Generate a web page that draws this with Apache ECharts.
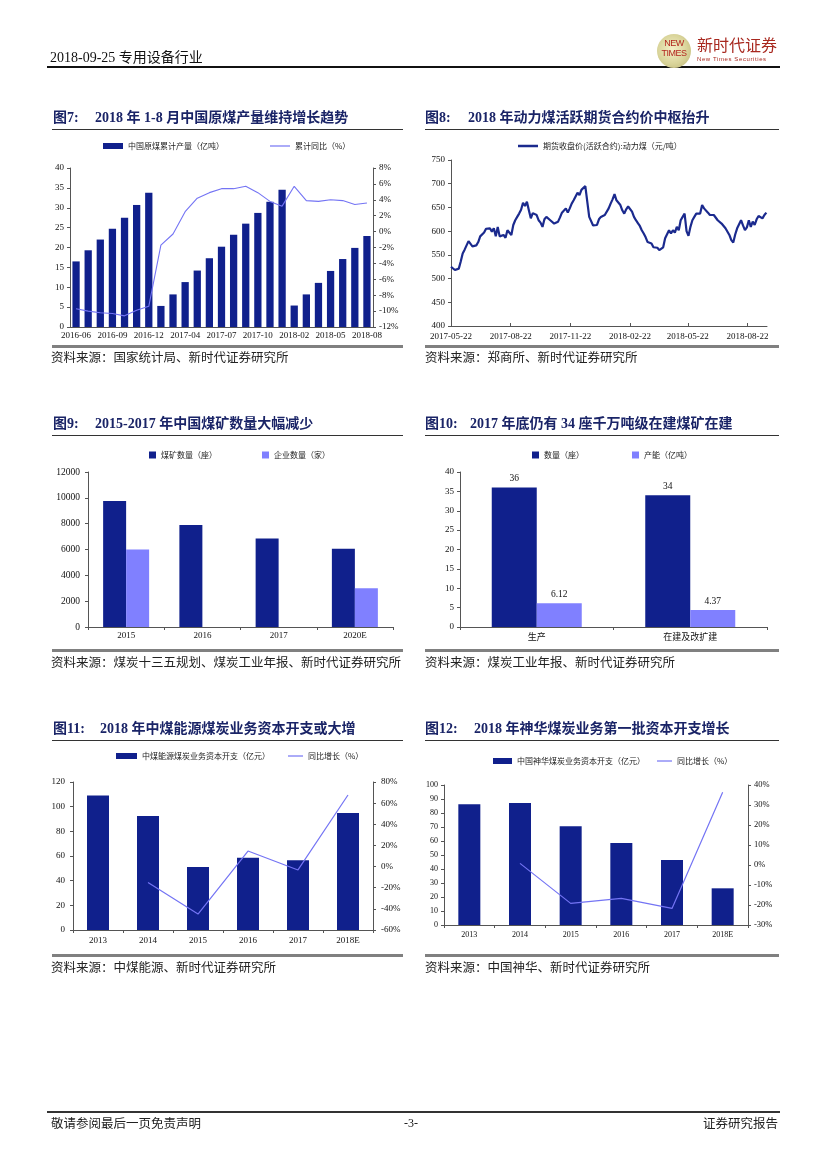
<!DOCTYPE html>
<html><head><meta charset="utf-8">
<script src="https://cdn.jsdelivr.net/npm/echarts@6.0.0/dist/echarts.min.js"></script>
<style>
html,body{margin:0;padding:0;background:#fff;}
#page{position:relative;width:827px;height:1169px;overflow:hidden;background:#fff;font-family:"Liberation Serif","Noto Sans CJK SC",serif;color:#111;}
#chart{position:absolute;left:0;top:0;width:827px;height:1169px;}
.t{position:absolute;white-space:nowrap;}
.ln{position:absolute;}
.ttl{font-weight:bold;font-size:14px;color:#1a2467;line-height:18px;}
.src{font-size:12.5px;line-height:16px;font-family:"Noto Sans CJK SC",sans-serif;color:#222;}
</style></head>
<body><div id="page">
<div id="chart"></div>

<!-- header -->
<div class="t" style="left:50px;top:47px;font-size:14px;line-height:18px;">2018-09-25 <span style="font-family:'Noto Sans CJK SC';">专用设备行业</span></div>
<div class="ln" style="left:47px;top:66px;width:733px;height:1.5px;background:#111;"></div>
<div style="position:absolute;left:657px;top:34px;width:34px;height:34px;border-radius:50%;background:radial-gradient(circle at 45% 45%,#f4f0c8 0%,#d9d49a 55%,#b8b070 100%);"></div>
<div class="t" style="left:657px;top:38px;width:34px;text-align:center;font-size:9px;line-height:10px;color:#b3261e;font-family:'Liberation Sans';letter-spacing:-0.5px;">NEW<br>TIMES</div>
<div class="t" style="left:697px;top:35px;font-size:16px;line-height:18px;color:#a8281f;font-family:'Noto Sans CJK SC';">新时代证券</div>
<div class="t" style="left:697px;top:55px;font-size:6px;line-height:8px;color:#a8281f;font-family:'Liberation Sans';letter-spacing:0.6px;">New Times Securities</div>

<!-- row 1 -->
<div class="t ttl" style="left:53px;top:109px;">图7:</div>
<div class="t ttl" style="left:95px;top:109px;">2018 年 1-8 月中国原煤产量维持增长趋势</div>
<div class="ln" style="left:52px;top:129px;width:351px;height:1px;background:#333;"></div>
<div class="ln" style="left:52px;top:345px;width:351px;height:2.5px;background:#808080;"></div>
<div class="t src" style="left:51px;top:349px;">资料来源：国家统计局、新时代证券研究所</div>

<div class="t ttl" style="left:425px;top:109px;">图8:</div>
<div class="t ttl" style="left:468px;top:109px;">2018 年动力煤活跃期货合约价中枢抬升</div>
<div class="ln" style="left:425px;top:129px;width:354px;height:1px;background:#333;"></div>
<div class="ln" style="left:425px;top:345px;width:354px;height:2.5px;background:#808080;"></div>
<div class="t src" style="left:425px;top:349px;">资料来源：郑商所、新时代证券研究所</div>

<!-- row 2 -->
<div class="t ttl" style="left:53px;top:415px;">图9:</div>
<div class="t ttl" style="left:95px;top:415px;">2015-2017 年中国煤矿数量大幅减少</div>
<div class="ln" style="left:52px;top:435px;width:351px;height:1px;background:#333;"></div>
<div class="ln" style="left:52px;top:649px;width:351px;height:2.5px;background:#808080;"></div>
<div class="t src" style="left:51px;top:654px;">资料来源：煤炭十三五规划、煤炭工业年报、新时代证券研究所</div>

<div class="t ttl" style="left:425px;top:415px;">图10:</div>
<div class="t ttl" style="left:470px;top:415px;">2017 年底仍有 34 座千万吨级在建煤矿在建</div>
<div class="ln" style="left:425px;top:435px;width:354px;height:1px;background:#333;"></div>
<div class="ln" style="left:425px;top:649px;width:354px;height:2.5px;background:#808080;"></div>
<div class="t src" style="left:425px;top:654px;">资料来源：煤炭工业年报、新时代证券研究所</div>

<!-- row 3 -->
<div class="t ttl" style="left:53px;top:720px;">图11:</div>
<div class="t ttl" style="left:100px;top:720px;">2018 年中煤能源煤炭业务资本开支或大增</div>
<div class="ln" style="left:52px;top:740px;width:351px;height:1px;background:#333;"></div>
<div class="ln" style="left:52px;top:954px;width:351px;height:2.5px;background:#808080;"></div>
<div class="t src" style="left:51px;top:959px;">资料来源：中煤能源、新时代证券研究所</div>

<div class="t ttl" style="left:425px;top:720px;">图12:</div>
<div class="t ttl" style="left:474px;top:720px;">2018 年神华煤炭业务第一批资本开支增长</div>
<div class="ln" style="left:425px;top:740px;width:354px;height:1px;background:#333;"></div>
<div class="ln" style="left:425px;top:954px;width:354px;height:2.5px;background:#808080;"></div>
<div class="t src" style="left:425px;top:959px;">资料来源：中国神华、新时代证券研究所</div>

<!-- footer -->
<div class="ln" style="left:47px;top:1111px;width:733px;height:1.5px;background:#333;"></div>
<div class="t src" style="left:51px;top:1115px;">敬请参阅最后一页免责声明</div>
<div class="t" style="left:404px;top:1115px;font-size:12px;line-height:16px;">-3-</div>
<div class="t src" style="left:703px;top:1115px;">证券研究报告</div>
</div>

<script>
// ---------- Data ----------
// Fig 7
const months7 = ['2016-06','2016-07','2016-08','2016-09','2016-10','2016-11','2016-12','2017-02','2017-03','2017-04','2017-05','2017-06','2017-07','2017-08','2017-09','2017-10','2017-11','2017-12','2018-02','2018-03','2018-04','2018-05','2018-06','2018-07','2018-08'];
const output7 = [16.5,19.3,22.0,24.7,27.5,30.7,33.8,5.3,8.2,11.3,14.2,17.3,20.2,23.2,26.0,28.7,31.5,34.5,5.4,8.2,11.1,14.1,17.1,19.9,22.9];
const yoy7 = [-9.7,-10.0,-10.2,-10.3,-10.6,-9.9,-9.4,-1.7,-0.3,2.5,4.2,4.9,5.4,5.4,5.7,4.9,3.8,3.2,5.7,3.9,3.8,4.0,3.9,3.4,3.6];
const name7a = '中国原煤累计产量（亿吨）', name7b = '累计同比（%）';

// Fig 8 (price sampled every 3 calendar days from start date)
const priceStart = [2017, 5, 22];
const priceStepDays = 3;
const priceValues = [
525,525,518,514,521,536,553,561,570,579,
581,568,570,570,577,589,587,597,605,609,
606,599,606,589,609,589,587,592,586,602,
604,592,613,623,630,637,645,660,653,662,
644,627,638,641,634,623,618,609,625,630,
632,623,625,616,615,620,629,639,641,648,
639,648,658,665,673,681,676,687,690,695,
694,630,627,612,613,613,625,630,633,634,
637,648,658,667,678,665,664,655,644,637,
646,652,648,641,630,623,617,611,602,595,
587,577,581,574,566,563,565,560,556,566,
585,587,602,595,602,597,609,602,623,630,
637,600,590,609,623,630,637,638,637,655,
648,646,639,634,638,634,630,623,622,616,
613,606,602,592,581,576,593,606,609,623,
612,602,608,623,609,620,613,625,632,630,
627,634,639];
const priceTickDates = ['2017-05-22','2017-08-22','2017-11-22','2018-02-22','2018-05-22','2018-08-22'];
const priceAxisEnd = '2018-09-21';
const name8 = '期货收盘价(活跃合约):动力煤（元/吨）';

// Fig 9
const years9 = ['2015','2016','2017','2020E'];
const mines9 = [9750,7900,6850,6060];
const firms9 = [6000,null,null,3000];
const name9a = '煤矿数量（座）', name9b = '企业数量（家）';

// Fig 10
const cats10 = ['生产','在建及改扩建'];
const count10 = [36,34];
const capacity10 = [6.12,4.37];
const name10a = '数量（座）', name10b = '产能（亿吨）';

// Fig 11
const years11 = ['2013','2014','2015','2016','2017','2018E'];
const capex11 = [109,92.5,51,58.5,56.6,94.9];
const yoy11 = [null,-15.1,-44.9,14.7,-3.2,67.7];
const name11a = '中煤能源煤炭业务资本开支（亿元）', name11b = '同比增长（%）';

// Fig 12
const years12 = ['2013','2014','2015','2016','2017','2018E'];
const capex12 = [86.2,87.1,70.5,58.6,46.4,26.2];
const yoy12 = [null,0.8,-19.2,-16.7,-21.7,36.4];
const name12a = '中国神华煤炭业务资本开支（亿元）', name12b = '同比增长（%）';

// ---------- Build ----------
function ts(s){ const p = s.split('-').map(Number); return new Date(p[0], p[1]-1, p[2]).getTime(); }
const startTs = new Date(priceStart[0], priceStart[1]-1, priceStart[2]).getTime();
const priceData = priceValues.map((v,i)=>[startTs + i*priceStepDays*86400000, v]);
function pad(n){return (n<10?'0':'')+n;}
function fmtDate(v){ const d=new Date(v); return d.getFullYear()+'-'+pad(d.getMonth()+1)+'-'+pad(d.getDate()); }
const plain = v => String(v);

const DARK = '#10208c', LIGHT = '#8080ff', LINE = '#7474f4';
const NUMFONT = '"Liberation Serif","Noto Sans CJK SC",serif';
const CJK = '"Noto Sans CJK SC",sans-serif';
const AXC = '#555';

function xCat(grid, data, extra){
  return Object.assign({
    type:'category', gridIndex:grid, data:data,
    axisLine:{lineStyle:{color:AXC,width:1}},
    axisTick:{show:true,length:3,lineStyle:{color:AXC}},
    axisLabel:{fontSize:9,fontFamily:NUMFONT,color:'#111',margin:4},
    splitLine:{show:false}
  }, extra||{});
}
function yVal(grid, min, max, interval, pos, extra){
  return Object.assign({
    type:'value', gridIndex:grid, min:min, max:max, interval:interval, position:pos,
    axisLine:{show:true,lineStyle:{color:AXC,width:1}},
    axisTick:{show:true,length:3,lineStyle:{color:AXC}},
    axisLabel:{fontSize:9,fontFamily:NUMFONT,color:'#111',margin:6,formatter:plain},
    splitLine:{show:false}
  }, extra||{});
}
function leg(name, left, yc, w, h, icon){
  return {data:[name], left:left, top:yc-5, itemWidth:w, itemHeight:h, icon:icon||'rect',
    padding:0, itemGap:0, selectedMode:false,
    textStyle:{fontSize:8,fontFamily:CJK,color:'#222',lineHeight:10}};
}
const tickTs = priceTickDates.map(ts);

const option = {
  animation:false,
  grid:[
    {left:70, top:168, width:303, height:159},
    {left:451, top:160, width:316, height:166},
    {left:88, top:472, width:305, height:155},
    {left:460, top:472, width:307, height:155},
    {left:73, top:782, width:300, height:148},
    {left:444, top:785, width:304, height:140}
  ],
  legend:[
    leg(name7a,103,146,20,6),
    leg(name7b,270,146,20,1.2),
    leg(name8,518,146,20,2.5),
    leg(name9a,149,455,7,7),
    leg(name9b,262,455,7,7),
    leg(name10a,532,455,7,7),
    leg(name10b,632,455,7,7),
    leg(name11a,116,756,21,6),
    leg(name11b,288,756,15,1.2),
    leg(name12a,493,761,19,6),
    leg(name12b,657,761,15,1.2)
  ],
  xAxis:[
    xCat(0, months7, {axisLabel:{fontSize:9,fontFamily:NUMFONT,color:'#111',margin:4,interval:2}, axisTick:{show:false}}),
    {type:'value', gridIndex:1, min:tickTs[0], max:ts(priceAxisEnd), scale:true,
      axisLine:{lineStyle:{color:AXC}},
      axisTick:{show:true,length:3,inside:true,customValues:tickTs,lineStyle:{color:AXC}},
      axisLabel:{fontSize:9,fontFamily:NUMFONT,color:'#111',margin:6,customValues:tickTs,formatter:fmtDate,hideOverlap:false},
      splitLine:{show:false}},
    xCat(2, years9),
    xCat(3, cats10, {axisLabel:{fontSize:9,fontFamily:NUMFONT,color:'#111',margin:6}}),
    xCat(4, years11, {axisLabel:{fontSize:9,fontFamily:NUMFONT,color:'#111',margin:6}}),
    xCat(5, years12, {axisLabel:{fontSize:8,fontFamily:NUMFONT,color:'#111',margin:6}})
  ],
  yAxis:[
    yVal(0,0,40,5,'left'),
    yVal(0,-12,8,2,'right',{axisLabel:{fontSize:9,fontFamily:NUMFONT,color:'#111',margin:6,formatter:'{value}%'}}),
    yVal(1,400,750,50,'left'),
    yVal(2,0,12000,2000,'left',{axisLabel:{fontSize:9.5,fontFamily:NUMFONT,color:'#111',margin:8,formatter:plain}}),
    yVal(3,0,40,5,'left'),
    yVal(4,0,120,20,'left',{axisLabel:{fontSize:9,fontFamily:NUMFONT,color:'#111',margin:8,formatter:plain}}),
    yVal(4,-60,80,20,'right',{axisLabel:{fontSize:9,fontFamily:NUMFONT,color:'#111',margin:8,formatter:'{value}%'}}),
    yVal(5,0,100,10,'left',{axisLabel:{fontSize:8,fontFamily:NUMFONT,color:'#111',margin:6,formatter:plain}}),
    yVal(5,-30,40,10,'right',{axisLabel:{fontSize:8.5,fontFamily:NUMFONT,color:'#111',margin:6,formatter:'{value}%'}})
  ],
  series:[
    {name:name7a, type:'bar', xAxisIndex:0, yAxisIndex:0, data:output7, barWidth:'60%', itemStyle:{color:DARK}},
    {name:name7b, type:'line', xAxisIndex:0, yAxisIndex:1, data:yoy7, symbol:'none', lineStyle:{color:LINE,width:1.1}, itemStyle:{color:LINE}},
    {name:name8, type:'line', xAxisIndex:1, yAxisIndex:2, data:priceData, symbol:'none', lineStyle:{color:'#1b2a8e',width:2.2}, itemStyle:{color:'#1b2a8e'}},
    {name:name9a, type:'bar', xAxisIndex:2, yAxisIndex:3, data:mines9, barWidth:23, barGap:'0%', itemStyle:{color:DARK}},
    {name:name9b, type:'bar', xAxisIndex:2, yAxisIndex:3, data:firms9, barWidth:23, barGap:'0%', itemStyle:{color:LIGHT}},
    {name:name10a, type:'bar', xAxisIndex:3, yAxisIndex:4, data:count10, barWidth:45, barGap:'0%', itemStyle:{color:DARK},
      label:{show:true,position:'top',distance:4,fontSize:9.5,fontFamily:NUMFONT,color:'#111'}},
    {name:name10b, type:'bar', xAxisIndex:3, yAxisIndex:4, data:capacity10, barWidth:45, barGap:'0%', itemStyle:{color:LIGHT},
      label:{show:true,position:'top',distance:4,fontSize:9.5,fontFamily:NUMFONT,color:'#111'}},
    {name:name11a, type:'bar', xAxisIndex:4, yAxisIndex:5, data:capex11, barWidth:22, itemStyle:{color:DARK}},
    {name:name11b, type:'line', xAxisIndex:4, yAxisIndex:6, data:yoy11, symbol:'none', lineStyle:{color:LINE,width:1.2}, itemStyle:{color:LINE}},
    {name:name12a, type:'bar', xAxisIndex:5, yAxisIndex:7, data:capex12, barWidth:22, itemStyle:{color:DARK}},
    {name:name12b, type:'line', xAxisIndex:5, yAxisIndex:8, data:yoy12, symbol:'none', lineStyle:{color:LINE,width:1.2}, itemStyle:{color:LINE}}
  ]
};
const chart = echarts.init(document.getElementById('chart'), null, {renderer:'canvas'});
chart.setOption(option);
</script>
</body></html>
